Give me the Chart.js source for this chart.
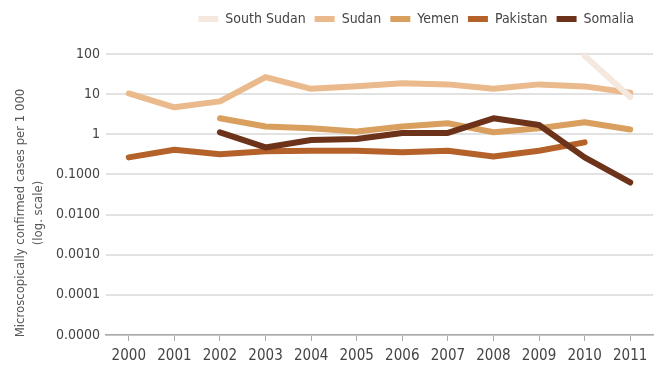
<!DOCTYPE html>
<html>
<head>
<meta charset="utf-8">
<script src="https://cdn.jsdelivr.net/npm/chart.js@4.4.1/dist/chart.umd.min.js"></script>
<style>
  body { margin: 0; background: #fff; }
  #wrap { width: 656px; height: 367px; }
</style>
</head>
<body>
<div id="wrap"><canvas id="chart" width="656" height="367"></canvas></div>
<script>
const years = ['2000', '2001', '2002', '2003', '2004', '2005', '2006', '2007', '2008', '2009', '2010', '2011'];

// cases per 1 000, null where no data
const southSudan = [null, null, null, null, null, null, null, null, null, null, 90, 8.5];
const sudan = [10.4, 4.7, 6.6, 26.6, 13.6, 15.8, 18.8, 17.5, 13.6, 17.5, 15.6, 10.8];
const yemen = [null, null, 2.5, 1.56, 1.41, 1.17, 1.56, 1.88, 1.12, 1.41, 2.0, 1.31];
const pakistan = [0.266, 0.41, 0.32, 0.376, 0.39, 0.39, 0.355, 0.39, 0.28, 0.39, 0.63, null];
const somalia = [null, null, 1.12, 0.47, 0.72, 0.76, 1.08, 1.08, 2.5, 1.71, 0.266, 0.063];

const yTicks = [0.00001, 0.0001, 0.001, 0.01, 0.1, 1, 10, 100];

const font = "'Liberation Sans Narrow', 'DejaVu Sans Condensed', sans-serif";

function series(label, data, color, order) {
    return {
        label: label,
        data: data,
        borderColor: color,
        backgroundColor: color,
        borderWidth: 6,
        pointRadius: 0,
        borderCapStyle: 'round',
        borderJoinStyle: 'round',
        tension: 0,
        order: order
    };
}

// rotated two-line title for the value axis
const yTitle = {
    id: 'yTitle',
    afterDraw(chart) {
        const ctx = chart.ctx;
        ctx.save();
        ctx.translate(30, 213);
        ctx.rotate(-Math.PI / 2);
        ctx.fillStyle = '#555';
        ctx.font = '13px ' + font;
        ctx.textAlign = 'center';
        ctx.textBaseline = 'middle';
        ctx.fillText('Microscopically confirmed cases per 1 000', 0, -9);
        ctx.fillText('(log. scale)', 0, 9);
        ctx.restore();
    }
};

// extra room under the legend row, and pull it in from the right edge
const legendGap = {
    id: 'legendGap',
    beforeInit(chart) {
        const fit = chart.legend.fit;
        chart.legend.fit = function () {
            fit.bind(chart.legend)();
            this.height += 18;
        };
    },
    afterLayout(chart) {
        chart.legend.right -= 10;
    }
};

new Chart(document.getElementById('chart'), {
    type: 'line',
    data: {
        labels: years,
        datasets: [
            series('South Sudan', southSudan, '#f4e8df', 0),
            series('Sudan', sudan, '#eab98c', 4),
            series('Yemen', yemen, '#d99f5e', 3),
            series('Pakistan', pakistan, '#b4622a', 2),
            series('Somalia', somalia, '#6c331a', 1)
        ]
    },
    options: {
        responsive: false,
        animation: false,
        layout: { padding: { top: 3, right: 3, left: 0, bottom: -4 } },
        plugins: {
            tooltip: { enabled: false },
            legend: {
                position: 'top',
                align: 'end',
                labels: {
                    boxWidth: 20,
                    boxHeight: 6,
                    padding: 9,
                    color: '#444',
                    font: { family: font, size: 14 },
                    generateLabels: chart =>
                        Chart.defaults.plugins.legend.labels.generateLabels(chart)
                            .map(l => Object.assign(l, { lineWidth: 0 })),
                    sort: (a, b) => a.datasetIndex - b.datasetIndex
                }
            }
        },
        scales: {
            x: {
                type: 'category',
                offset: true,
                grid: {
                    display: true,
                    drawOnChartArea: false,
                    drawTicks: true,
                    tickLength: 6,
                    color: '#aaa'
                },
                border: { color: '#aaa', width: 1.5 },
                ticks: {
                    color: '#444',
                    padding: 6,
                    maxRotation: 0,
                    autoSkip: false,
                    font: { family: font, size: 15 }
                }
            },
            y: {
                type: 'logarithmic',
                min: 0.00001,
                max: 100,
                afterBuildTicks: s => { s.ticks = yTicks.map(v => ({ value: v })); },
                afterFit: s => { s.width = 106; },
                grid: { color: '#e2e2e2', lineWidth: 2, drawTicks: false },
                border: { display: false },
                ticks: {
                    color: '#444',
                    padding: 6,
                    font: { family: font, size: 14 },
                    callback: v => v >= 1 ? String(v) : v.toFixed(4)
                }
            }
        }
    },
    plugins: [yTitle, legendGap]
});
</script>
</body>
</html>
